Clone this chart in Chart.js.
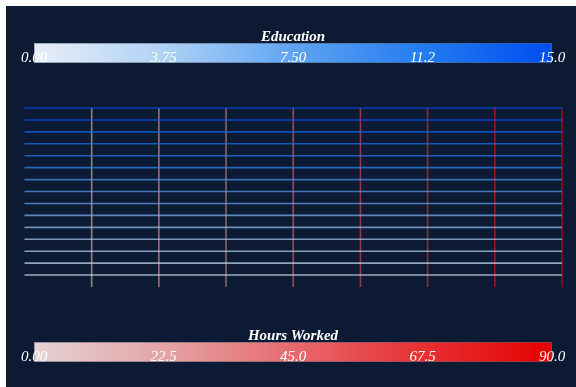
<!DOCTYPE html>
<html>
<head>
<meta charset="utf-8">
<script src="https://cdn.jsdelivr.net/npm/chart.js@4.4.1/dist/chart.umd.min.js"></script>
<style>
  html, body { margin: 0; padding: 0; background: #ffffff; }
  #wrap { position: absolute; left: 6px; top: 6px; width: 570px; height: 381px; background: #0c1a33; }
  canvas { display: block; }
</style>
</head>
<body>
<div id="wrap"><canvas id="grid" width="570" height="381"></canvas></div>
<script>
// grid levels
var educationLevels = [1, 2, 3, 4, 5, 6, 7, 8, 9, 10, 11, 12, 13, 14, 15];
var hoursWorked = [11.25, 22.5, 33.75, 45, 56.25, 67.5, 78.75, 90];

// colour bar ticks
var educationTicks = [0, 3.75, 7.5, 11.25, 15];
var educationTickLabels = ['0.00', '3.75', '7.50', '11.2', '15.0'];
var hoursTicks = [0, 22.5, 45, 67.5, 90];
var hoursTickLabels = ['0.00', '22.5', '45.0', '67.5', '90.0'];

var eduMax = 15;
var hoursMax = 90;

// colour maps: [position, r, g, b]
var blues = [[0, 232, 238, 248], [0.25, 176, 210, 245], [0.5, 96, 164, 242], [0.75, 36, 124, 240], [1, 0, 76, 240]];
var reds = [[0, 230, 210, 213], [0.25, 228, 164, 166], [0.5, 230, 106, 110], [0.75, 232, 48, 50], [1, 228, 0, 0]];

function cmap(stops, t, alpha) {
  t = Math.max(0, Math.min(1, t));
  for (var i = 1; i < stops.length; i++) {
    if (t <= stops[i][0]) {
      var a = stops[i - 1], b = stops[i];
      var f = (t - a[0]) / (b[0] - a[0]);
      var c = [1, 2, 3].map(function (k) { return Math.round(a[k] + (b[k] - a[k]) * f); });
      return 'rgba(' + c.join(',') + ',' + alpha + ')';
    }
  }
}

var datasets = [];
educationLevels.forEach(function (e) {
  datasets.push({
    data: [{ x: 0, y: e }, { x: hoursMax, y: e }],
    borderColor: cmap(blues, e / eduMax, 0.7),
    borderWidth: 1.6
  });
});
hoursWorked.forEach(function (h) {
  datasets.push({
    data: [{ x: h, y: 0 }, { x: h, y: eduMax }],
    borderColor: cmap(reds, h / hoursMax, 0.62),
    borderWidth: 1.6
  });
});

// gradient bars with their titles and tick labels
var colorBars = {
  id: 'colorBars',
  afterDraw: function (chart) {
    var ctx = chart.ctx;
    var bars = [
      { title: 'Education', top: 37, stops: blues, max: eduMax, ticks: educationTicks, labels: educationTickLabels },
      { title: 'Hours Worked', top: 336, stops: reds, max: hoursMax, ticks: hoursTicks, labels: hoursTickLabels }
    ];
    var left = 28, right = 546, h = 20;
    ctx.save();
    bars.forEach(function (b) {
      var g = ctx.createLinearGradient(left, 0, right, 0);
      b.stops.forEach(function (s) { g.addColorStop(s[0], cmap(b.stops, s[0], 1)); });
      ctx.fillStyle = g;
      ctx.fillRect(left, b.top, right - left, h);
      ctx.strokeStyle = 'rgba(90,100,120,0.5)';
      ctx.lineWidth = 1;
      ctx.strokeRect(left + 0.5, b.top + 0.5, right - left - 1, h - 1);

      ctx.fillStyle = '#ffffff';
      ctx.textAlign = 'center';
      ctx.textBaseline = 'alphabetic';
      ctx.font = 'italic bold 15px "Liberation Serif", "DejaVu Serif", serif';
      ctx.fillText(b.title, (left + right) / 2, b.top - 2);
      ctx.font = 'italic 15px "Liberation Serif", "DejaVu Serif", serif';
      b.ticks.forEach(function (v, i) {
        var x = left + (right - left) * v / b.max;
        ctx.fillText(b.labels[i], x, b.top + 18.5);
      });
    });
    ctx.restore();
  }
};

new Chart(document.getElementById('grid'), {
  type: 'line',
  data: { datasets: datasets },
  options: {
    responsive: false,
    animation: false,
    events: [],
    layout: { padding: { left: 18.5, right: 14, top: 102, bottom: 100 } },
    elements: { point: { radius: 0 }, line: { tension: 0 } },
    datasets: { line: { clip: 4 } },
    scales: {
      x: { type: 'linear', min: 0, max: hoursMax, display: false },
      y: { type: 'linear', min: 0, max: eduMax, display: false }
    },
    plugins: { legend: { display: false }, tooltip: { enabled: false } }
  },
  plugins: [colorBars]
});
</script>
</body>
</html>
